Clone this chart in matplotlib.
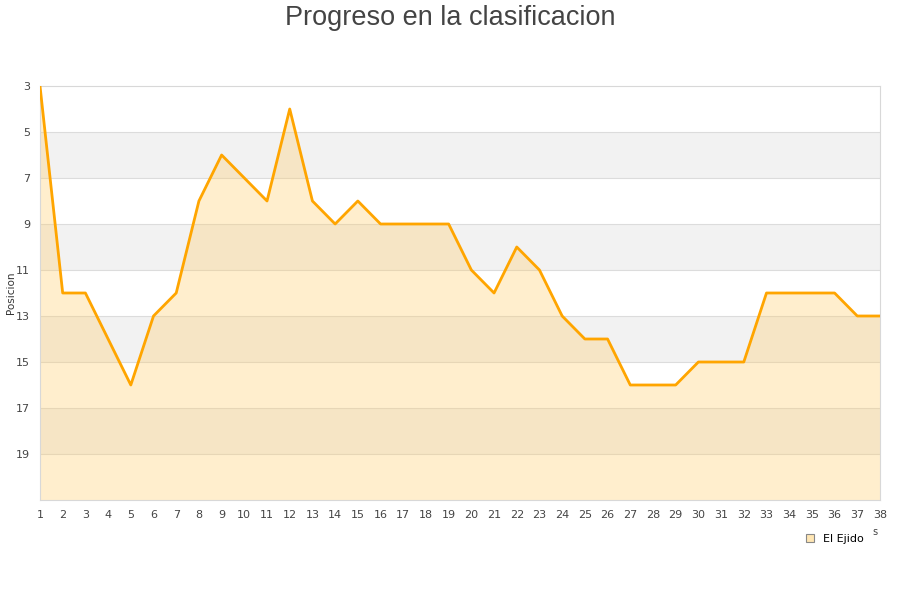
import matplotlib.pyplot as plt
from matplotlib.patches import Patch

# data
jornadas = list(range(1, 39))
posicion = [3, 12, 12, 14, 16, 13, 12, 8, 6, 7, 8, 4, 8, 9, 8, 9, 9, 9, 9, 11,
            12, 10, 11, 13, 14, 14, 16, 16, 16, 15, 15, 15, 12, 12, 12, 12, 13, 13]
y_ticks = [3, 5, 7, 9, 11, 13, 15, 17, 19]
equipo = 'El Ejido'

fig = plt.figure(figsize=(9, 6), dpi=100)
ax = fig.add_axes([40 / 900, 100 / 600, 840 / 900, 414 / 600])

ax.set_xlim(1, 38)
ax.set_ylim(21, 3)

# alternating bands
for lo in range(5, 21, 4):
    ax.axhspan(lo, lo + 2, color='#f2f2f2', zorder=0, lw=0)
for y in range(5, 21, 2):
    ax.axhline(y, color='#dcdcdc', lw=0.8, zorder=1)

ax.fill_between(jornadas, posicion, 21, color='#ffcc66', alpha=0.32, lw=0, zorder=2)
ax.plot(jornadas, posicion, color='#ffa500', lw=2.0, zorder=3)

ax.set_xticks(jornadas)
ax.set_yticks(y_ticks)
ax.tick_params(length=0, labelsize=8, colors='#444444', pad=7)
for s in ax.spines.values():
    s.set_color('#d8d8d8')

fig.text(11 / 900, 1 - 293 / 600, 'Posicion', rotation=90, fontsize=7.5,
         color='#333333', ha='center', va='center')
fig.text(0.5, 1 - 18 / 600, 'Progreso en la clasificacion', ha='center', va='center',
         fontsize=19.5, color='#444444', family='Liberation Sans')
fig.text(875 / 900, 1 - 532 / 600, 's', fontsize=7, color='#444444', ha='center', va='center')

leg = fig.legend(handles=[Patch(facecolor='#ffe6b3', edgecolor='#888888', lw=0.8, label=equipo)],
                 loc='center', bbox_to_anchor=(835 / 900, 1 - 539 / 600), frameon=False,
                 fontsize=8, handlelength=0.7, handleheight=0.7, handletextpad=0.8)

plt.savefig('out.png')
